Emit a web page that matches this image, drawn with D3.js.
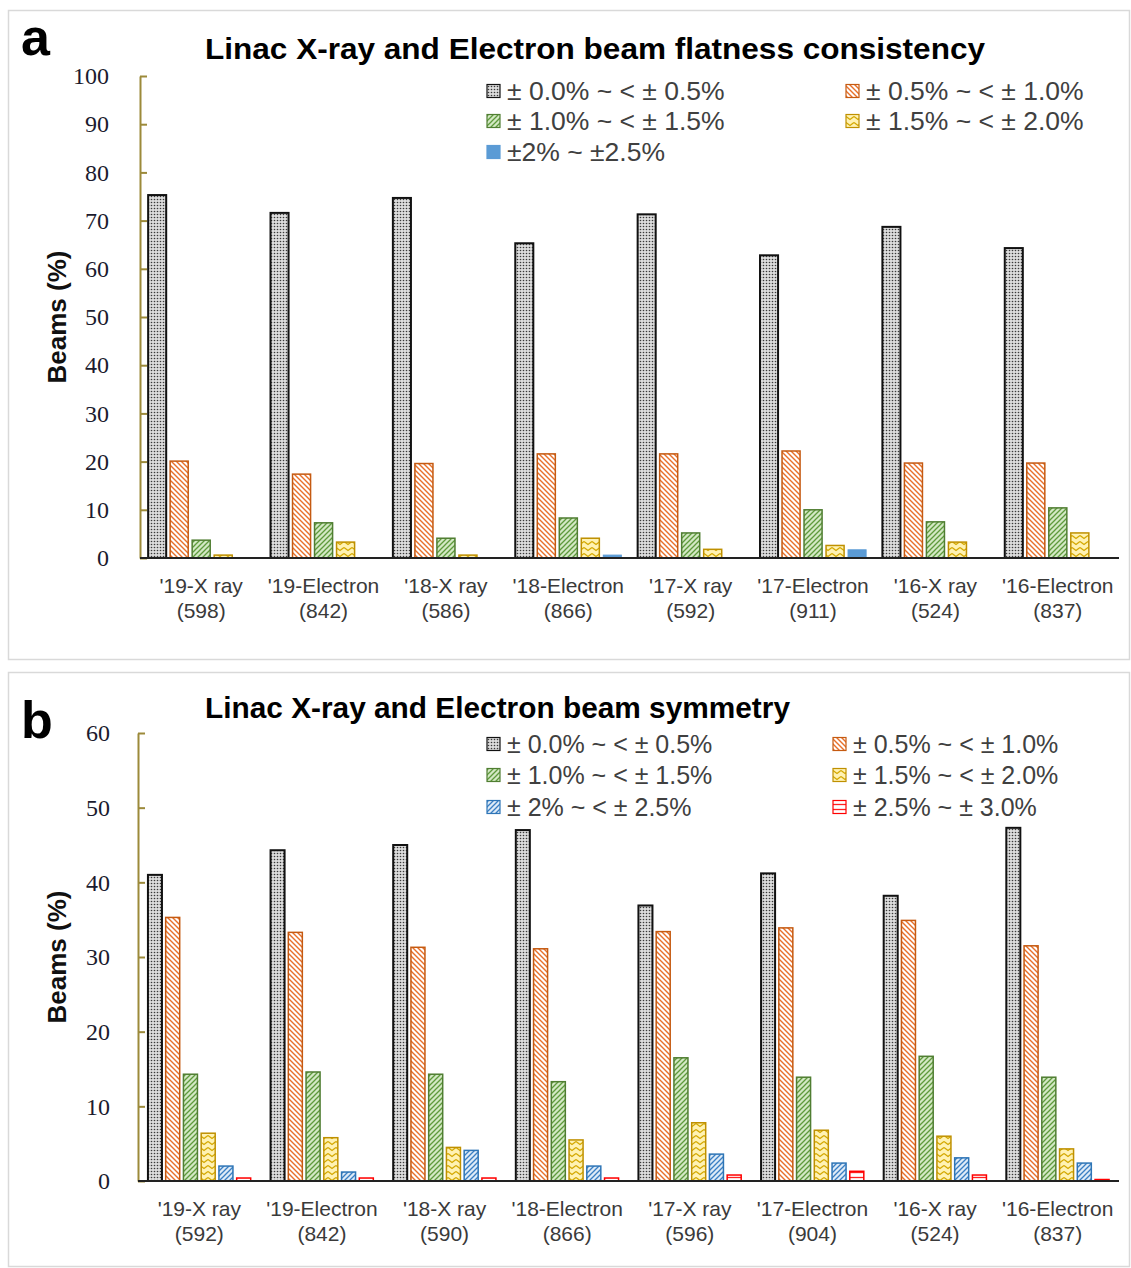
<!DOCTYPE html>
<html>
<head>
<meta charset="utf-8">
<script src="https://cdn.jsdelivr.net/npm/d3@7"></script>
<style>
  body { margin: 0; background: #fff; }
  svg { display: block; font-family: "Liberation Sans", Arial, sans-serif; }
</style>
</head>
<body>
<script>
// ! Data, panel a (flatness)
const groupsA = ["'19-X ray", "'19-Electron", "'18-X ray", "'18-Electron", "'17-X ray", "'17-Electron", "'16-X ray", "'16-Electron"];
const countsA = ["(598)", "(842)", "(586)", "(866)", "(592)", "(911)", "(524)", "(837)"];
const seriesA = ["± 0.0% ~ < ± 0.5%", "± 0.5% ~ < ± 1.0%", "± 1.0% ~ < ± 1.5%", "± 1.5% ~ < ± 2.0%", "±2% ~ ±2.5%"];
const flat00 = [75.3, 71.6, 74.7, 65.3, 71.3, 62.8, 68.7, 64.3];
const flat05 = [20.1, 17.4, 19.6, 21.6, 21.6, 22.2, 19.7, 19.7];
const flat10 = [3.7, 7.3, 4.1, 8.3, 5.2, 10.0, 7.5, 10.4];
const flat15 = [0.6, 3.3, 0.6, 4.1, 1.8, 2.6, 3.3, 5.2];
const flat20 = [0, 0, 0, 0.6, 0, 1.7, 0, 0];
const ticksA = [0, 10, 20, 30, 40, 50, 60, 70, 80, 90, 100];

// ! Data, panel b (symmetry)
const groupsB = ["'19-X ray", "'19-Electron", "'18-X ray", "'18-Electron", "'17-X ray", "'17-Electron", "'16-X ray", "'16-Electron"];
const countsB = ["(592)", "(842)", "(590)", "(866)", "(596)", "(904)", "(524)", "(837)"];
const seriesB = ["± 0.0% ~ < ± 0.5%", "± 0.5% ~ < ± 1.0%", "± 1.0% ~ < ± 1.5%", "± 1.5% ~ < ± 2.0%", "± 2% ~ < ± 2.5%", "± 2.5% ~ ± 3.0%"];
const sym00 = [41.0, 44.3, 45.0, 47.0, 36.9, 41.2, 38.2, 47.3];
const sym05 = [35.3, 33.3, 31.3, 31.1, 33.4, 33.9, 34.9, 31.5];
const sym10 = [14.3, 14.6, 14.3, 13.3, 16.5, 13.9, 16.7, 13.9];
const sym15 = [6.4, 5.8, 4.5, 5.5, 7.8, 6.8, 6.0, 4.3];
const sym20 = [2.0, 1.2, 4.1, 2.0, 3.6, 2.4, 3.1, 2.4];
const sym25 = [0.4, 0.4, 0.4, 0.4, 0.8, 1.3, 0.8, 0.2];
const ticksB = [0, 10, 20, 30, 40, 50, 60];

const width = 1131;
const height = 1268;

const svg = d3
  .select("body")
  .append("svg")
  .attr("width", width)
  .attr("height", height);

// ! Fill patterns
const defs = svg.append("defs");
function addPattern(id, w, h, bg, draw) {
  const p = defs
    .append("pattern")
    .attr("id", id)
    .attr("patternUnits", "userSpaceOnUse")
    .attr("width", w)
    .attr("height", h);
  p.append("rect").attr("width", w).attr("height", h).attr("fill", bg);
  draw(p);
}
addPattern("dots", 3, 3, "#dcdcdc", (p) =>
  p.append("circle").attr("cx", 1.5).attr("cy", 1.5).attr("r", 0.8).attr("fill", "#3a3a3a")
);
addPattern("orangeDiag", 5, 5, "#ffffff", (p) =>
  p.append("path").attr("d", "M0,0L5,5M-1,4L1,6M4,-1L6,1")
    .attr("stroke", "#e8702a").attr("stroke-width", 1.4)
);
addPattern("greenDiag", 5, 5, "#d3e8c4", (p) =>
  p.append("path").attr("d", "M0,5L5,0M-1,1L1,-1M4,6L6,4")
    .attr("stroke", "#5e9a3c").attr("stroke-width", 1.3)
);
addPattern("yellowZig", 8, 6, "#fff2b3", (p) =>
  p.append("path").attr("d", "M0,1.5L4,4.5L8,1.5")
    .attr("fill", "none").attr("stroke", "#d4a800").attr("stroke-width", 1.3)
);
addPattern("blueDiag", 5, 5, "#deebf7", (p) =>
  p.append("path").attr("d", "M0,5L5,0M-1,1L1,-1M4,6L6,4")
    .attr("stroke", "#3a7fc4").attr("stroke-width", 1.3)
);
addPattern("redHoriz", 4, 5, "#ffffff", (p) =>
  p.append("path").attr("d", "M0,2.5H4")
    .attr("stroke", "#ff2020").attr("stroke-width", 1.3)
);

const stylesA = [
  { fill: "url(#dots)", stroke: "#111", sw: 2 },
  { fill: "url(#orangeDiag)", stroke: "#c55a11", sw: 1.5 },
  { fill: "url(#greenDiag)", stroke: "#507e32", sw: 1.5 },
  { fill: "url(#yellowZig)", stroke: "#bf9000", sw: 1.5 },
  { fill: "#5b9bd5", stroke: "#5b9bd5", sw: 1 },
];
const stylesB = [
  { fill: "url(#dots)", stroke: "#111", sw: 2 },
  { fill: "url(#orangeDiag)", stroke: "#c55a11", sw: 1.5 },
  { fill: "url(#greenDiag)", stroke: "#507e32", sw: 1.5 },
  { fill: "url(#yellowZig)", stroke: "#bf9000", sw: 1.5 },
  { fill: "url(#blueDiag)", stroke: "#2e75b6", sw: 1.5 },
  { fill: "url(#redHoriz)", stroke: "#ff0000", sw: 1.5 },
];

// ! Rendering one panel
const drawPanel = (cfg) => {
  const g = svg.append("g");

  // panel frame
  g.append("rect")
    .attr("x", cfg.frame[0]).attr("y", cfg.frame[1])
    .attr("width", cfg.frame[2]).attr("height", cfg.frame[3])
    .attr("fill", "none").attr("stroke", "#d9d9d9").attr("stroke-width", 1.5);

  const xScale = d3.scaleBand().domain(d3.range(cfg.groups.length)).range([cfg.x0, cfg.x1]);
  const inner = d3
    .scaleBand()
    .domain(d3.range(cfg.series.length))
    .range([0, xScale.bandwidth()])
    .paddingInner(cfg.padIn)
    .paddingOuter(cfg.padOut);
  const yScale = d3.scaleLinear().domain([0, cfg.ymax]).range([cfg.y0, cfg.ytop]);

  // bars
  cfg.values.forEach((vals, s) => {
    g.append("g")
      .selectAll("rect")
      .data(vals)
      .enter()
      .append("rect")
      .attr("x", (d, i) => xScale(i) + inner(s))
      .attr("y", (d) => yScale(d))
      .attr("width", inner.bandwidth())
      .attr("height", (d) => yScale(0) - yScale(d))
      .attr("fill", cfg.styles[s].fill)
      .attr("stroke", cfg.styles[s].stroke)
      .attr("stroke-width", (d) => (d > 0 ? cfg.styles[s].sw : 0));
  });

  // y axis
  const yAxisG = g
    .append("g")
    .attr("transform", `translate(${cfg.x0}, 0)`)
    .call(d3.axisLeft(yScale).tickValues(cfg.ticks).tickSizeInner(-7).tickSizeOuter(0).tickPadding(cfg.tickPad));
  yAxisG.select(".domain").attr("stroke", "#9c8a3a").attr("stroke-width", 2);
  yAxisG.selectAll(".tick line").attr("stroke", "#9c8a3a").attr("stroke-width", 2);
  yAxisG.selectAll(".tick text")
    .attr("fill", "#1b1b2e")
    .style("font-family", "'Liberation Serif', 'Times New Roman', serif")
    .style("font-size", "24px");

  // x baseline
  g.append("line")
    .attr("x1", cfg.x0).attr("x2", cfg.x1)
    .attr("y1", cfg.y0).attr("y2", cfg.y0)
    .attr("stroke", "#222").attr("stroke-width", 2);

  // x labels
  const xl = g.append("g").selectAll("text").data(cfg.groups).enter().append("text")
    .attr("text-anchor", "middle")
    .attr("fill", "#3a3a3a")
    .style("font-size", "21px");
  xl.append("tspan")
    .attr("x", (d, i) => xScale(i) + xScale.bandwidth() / 2)
    .attr("y", cfg.y0 + 35)
    .text((d) => d);
  xl.append("tspan")
    .attr("x", (d, i) => xScale(i) + xScale.bandwidth() / 2)
    .attr("y", cfg.y0 + 60)
    .text((d, i) => cfg.counts[i]);

  // y title
  g.append("text")
    .attr("transform", `translate(66, ${(cfg.y0 + cfg.ytop) / 2}) rotate(-90)`)
    .attr("text-anchor", "middle")
    .attr("fill", "#111")
    .style("font-size", "26px")
    .style("font-weight", "bold")
    .text("Beams (%)");

  // title
  g.append("text")
    .attr("x", 205)
    .attr("y", cfg.titleY)
    .attr("fill", "#000")
    .attr("textLength", cfg.titleLen)
    .attr("lengthAdjust", "spacingAndGlyphs")
    .style("font-size", "29px")
    .style("font-weight", "bold")
    .text(cfg.title);

  // panel letter
  g.append("text")
    .attr("x", 21)
    .attr("y", cfg.letterY)
    .attr("fill", "#000")
    .style("font-size", "52px")
    .style("font-weight", "bold")
    .text(cfg.letter);

  // legend
  const leg = g.append("g").selectAll("g").data(cfg.series).enter().append("g")
    .attr("transform", (d, i) => `translate(${cfg.legCols[i % 2]}, ${cfg.legRows[Math.floor(i / 2)]})`);
  leg.append("rect")
    .attr("x", 0).attr("y", -6.5).attr("width", 13).attr("height", 13)
    .attr("fill", (d, i) => cfg.styles[i].fill)
    .attr("stroke", (d, i) => cfg.styles[i].stroke)
    .attr("stroke-width", 1.2);
  leg.append("text")
    .attr("x", 20)
    .attr("y", 9)
    .attr("fill", "#404040")
    .style("font-size", cfg.legSize + "px")
    .text((d) => d);
};

drawPanel({
  frame: [8.5, 10.5, 1121, 649],
  groups: groupsA,
  counts: countsA,
  series: seriesA,
  values: [flat00, flat05, flat10, flat15, flat20],
  styles: stylesA,
  ticks: ticksA,
  ymax: 100,
  x0: 140, x1: 1119,
  y0: 558, ytop: 76,
  padIn: 0.18, padOut: 0.37,
  tickPad: 31,
  title: "Linac X-ray and Electron beam flatness consistency",
  titleY: 59, titleLen: 780,
  letter: "a", letterY: 55,
  legCols: [487, 846], legRows: [91, 121, 152],
  legSize: 26.5,
});

drawPanel({
  frame: [8.5, 672.5, 1121, 594],
  groups: groupsB,
  counts: countsB,
  series: seriesB,
  values: [sym00, sym05, sym10, sym15, sym20, sym25],
  styles: stylesB,
  ticks: ticksB,
  ymax: 60,
  x0: 138, x1: 1119,
  y0: 1181, ytop: 733,
  padIn: 0.21, padOut: 0.56,
  tickPad: 28,
  title: "Linac X-ray and Electron  beam symmetry",
  titleY: 718, titleLen: 585,
  letter: "b", letterY: 738,
  legCols: [487, 833], legRows: [744, 775, 807],
  legSize: 25,
});
</script>
</body>
</html>
